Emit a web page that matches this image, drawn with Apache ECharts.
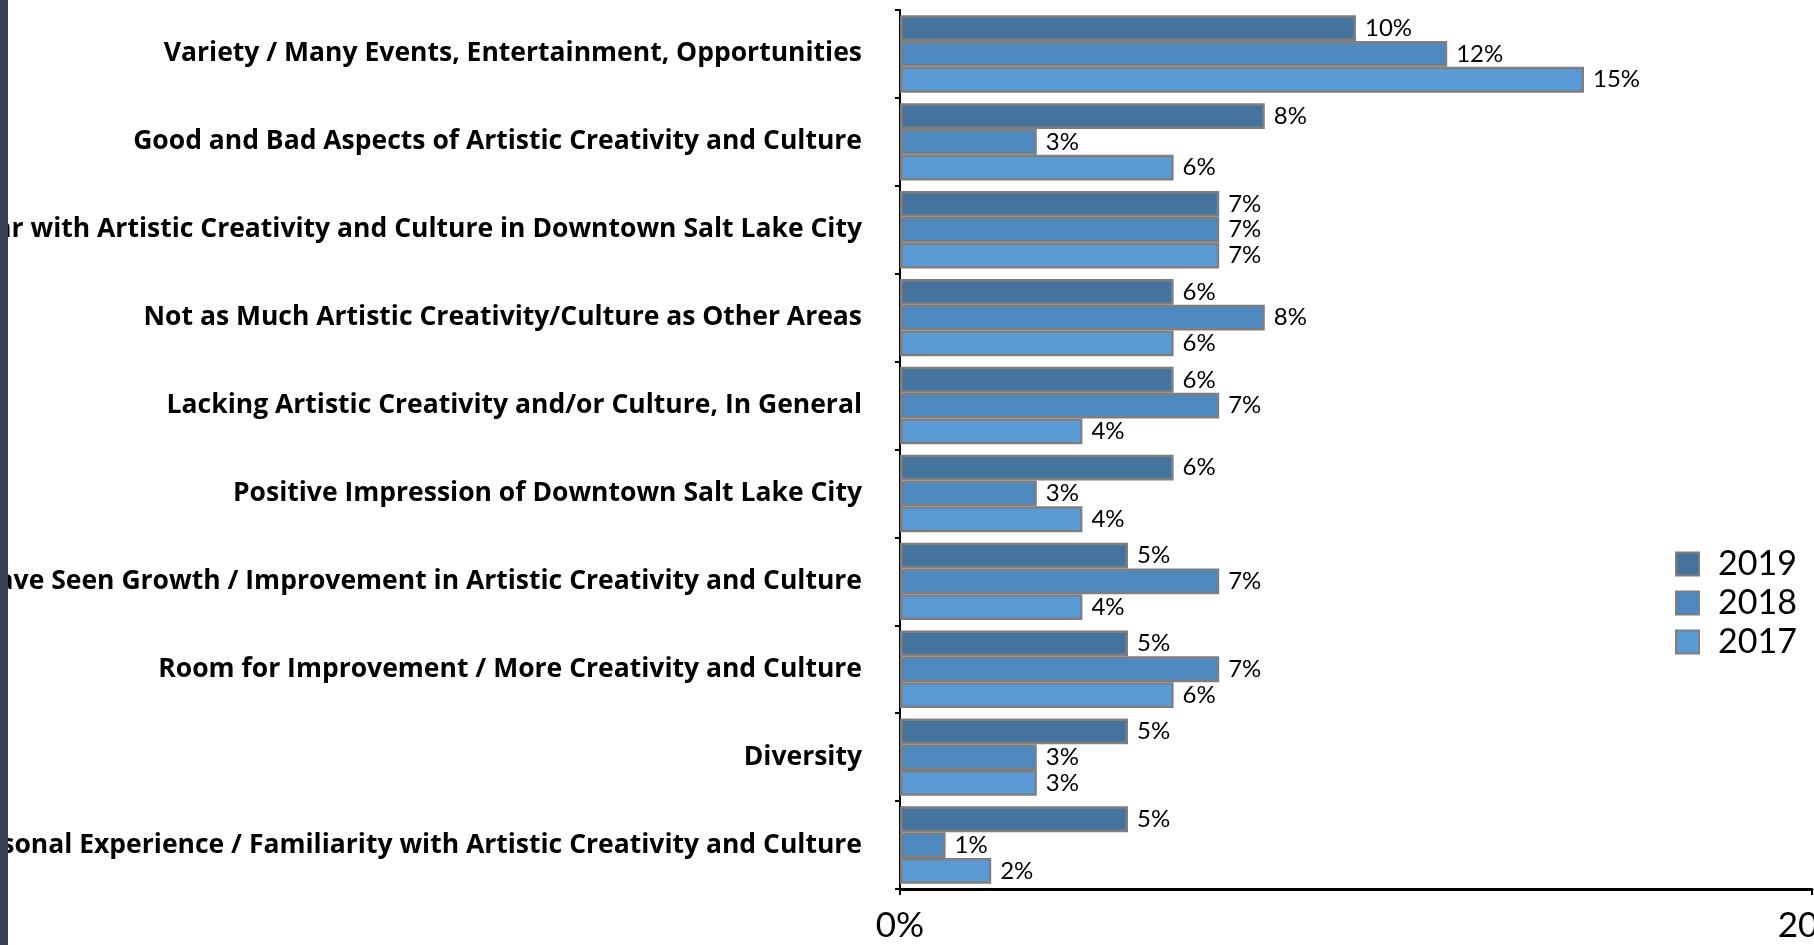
<!DOCTYPE html>
<html>
<head>
<meta charset="utf-8">
<script src="https://cdn.jsdelivr.net/npm/echarts@6/dist/echarts.min.js"></script>
<style>
  html, body { margin: 0; padding: 0; background: #ffffff; }
  #chart { width: 1814px; height: 945px; }
</style>
</head>
<body>
<div id="chart"></div>
<script>
// Survey responses about artistic creativity and culture, by year
const categories = [
  'Variety / Many Events, Entertainment, Opportunities',
  'Good and Bad Aspects of Artistic Creativity and Culture',
  'Unfamiliar with Artistic Creativity and Culture in Downtown Salt Lake City',
  'Not as Much Artistic Creativity/Culture as Other Areas',
  'Lacking Artistic Creativity and/or Culture, In General',
  'Positive Impression of Downtown Salt Lake City',
  'Have Seen Growth / Improvement in Artistic Creativity and Culture',
  'Room for Improvement / More Creativity and Culture',
  'Diversity',
  'Personal Experience / Familiarity with Artistic Creativity and Culture'
];
const years = ['2019', '2018', '2017'];
const values2019 = [10, 8, 7, 6, 6, 6, 5, 5, 5, 5];
const values2018 = [12, 3, 7, 8, 7, 3, 7, 7, 3, 1];
const values2017 = [15, 6, 7, 6, 4, 4, 4, 6, 3, 2];
const axisMin = 0;
const axisMax = 20;
const axisStep = 20;

const barColors = ['#44739e', '#4d88bf', '#5b9bd5'];
const seriesValues = [values2019, values2018, values2017];
const FONT = 'Lato';

const chart = echarts.init(document.getElementById('chart'), null, { renderer: 'canvas' });

const series = years.map((y, i) => ({
  name: y,
  type: 'bar',
  data: seriesValues[i],
  barGap: '0%',
  barCategoryGap: '12%',
  itemStyle: { color: barColors[i], borderColor: '#7f7f7f', borderWidth: 2.5 },
  label: {
    show: true,
    position: 'right',
    distance: 9,
    formatter: '{c}%',
    color: '#000000',
    fontFamily: FONT,
    fontSize: 24
  }
}));

chart.setOption({
  animation: false,
  backgroundColor: '#ffffff',
  grid: { left: 900, right: 2, top: 10, bottom: 56, containLabel: false, outerBoundsMode: 'none' },
  legend: {
    data: years,
    orient: 'vertical',
    left: 1670,
    top: 542,
    itemWidth: 23,
    itemHeight: 23,
    itemGap: 5,
    icon: 'rect',
    textStyle: { fontFamily: FONT, fontSize: 34, color: '#000000', padding: [0, 0, 0, 14] }
  },
  xAxis: {
    type: 'value',
    min: axisMin,
    max: axisMax,
    interval: axisStep,
    splitLine: { show: false },
    axisLine: { show: true, lineStyle: { color: '#000000', width: 3 } },
    axisTick: { show: true, length: 6, lineStyle: { color: '#000000', width: 2 } },
    axisLabel: { formatter: '{value}%', fontFamily: FONT, fontSize: 35, color: '#000000', margin: 19 }
  },
  yAxis: {
    type: 'category',
    data: categories,
    inverse: true,
    axisLine: { show: true, lineStyle: { color: '#000000', width: 2 } },
    axisTick: { show: true, length: 5, lineStyle: { color: '#000000', width: 2 } },
    axisLabel: { fontFamily: 'Open Sans', fontWeight: 'bold', fontSize: 26.5, color: '#000000', margin: 38 }
  },
  graphic: [{
    type: 'rect',
    left: 0,
    top: 0,
    z: 100,
    shape: { width: 8, height: 945 },
    style: { fill: '#364152' }
  }],
  series: series
});
</script>
</body>
</html>
